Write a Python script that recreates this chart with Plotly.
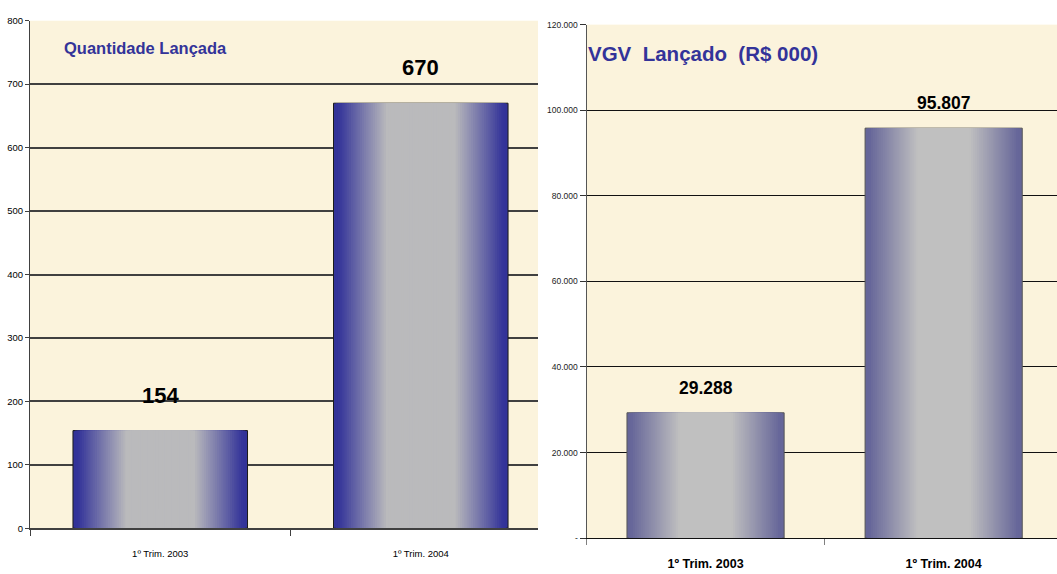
import plotly.graph_objects as go

# ---- data ----
categories = ["1º Trim. 2003", "1º Trim. 2004"]
quantidade = [154, 670]
vgv = [29288, 95807]
qty_labels = ["154", "670"]
vgv_labels = ["29.288", "95.807"]
left_ticks = [0, 100, 200, 300, 400, 500, 600, 700, 800]
right_ticks = [0, 20000, 40000, 60000, 80000, 100000, 120000]
right_ticktext = ["-", "20.000", "40.000", "60.000", "80.000", "100.000", "120.000"]

W, H = 1057, 574
FONT = "Liberation Sans, Arial, sans-serif"
BG = "#FBF3DC"

def lerp(c1, c2, t):
    return "rgb(%d,%d,%d)" % tuple(round(a + (b - a) * t) for a, b in zip(c1, c2))

def gradient_layers(fig, y, xaxis, yaxis, dark, light, bar_w, s0, s1, edge, n=40):
    xs = list(range(len(y)))
    for k in range(n):
        s = k / n
        t = min(max((s - s0) / (s1 - s0), 0), 1)
        fig.add_trace(go.Bar(
            x=xs, y=y, width=bar_w * (1 - s),
            marker=dict(color=lerp(dark, light, t),
                        line=dict(width=1 if k == 0 else 0, color=edge)),
            xaxis=xaxis, yaxis=yaxis, showlegend=False, hoverinfo="skip"))

fig = go.Figure()
gradient_layers(fig, quantidade, "x", "y", (51, 51, 153), (186, 186, 188), 0.67, 0.04, 0.6, "#1a1a1a")
gradient_layers(fig, vgv, "x2", "y2", (102, 102, 153), (192, 192, 192), 0.66, 0.04, 0.66, "#555555")

xd1 = [30 / W, 538 / W]
xd2 = [586.5 / W, 1.0]
yd1 = [1 - 532.5 / H, 1 - 15 / H]
yd2 = [1 - 542.5 / H, 1 - 19 / H]

fig.update_layout(
    width=W, height=H, margin=dict(l=0, r=0, t=0, b=0),
    paper_bgcolor="white", plot_bgcolor=BG, barmode="overlay",
    showlegend=False,
    xaxis=dict(domain=xd1, range=[-0.5, 1.45], tickvals=[0, 1], ticktext=categories,
               ticks="", showgrid=False, zeroline=False,
               showline=True, linecolor="#404040", linewidth=2,
               tickfont=dict(family=FONT, size=9.5, color="black"),
               ticklabelstandoff=15,
               minor=dict(tickvals=[-0.5, 0.5], ticks="outside", ticklen=6,
                          tickcolor="#404040", showgrid=False),
               anchor="y", fixedrange=True),
    yaxis=dict(domain=yd1, range=[0, 800], tickvals=left_ticks,
               showgrid=True, gridcolor="#404040", gridwidth=2, zeroline=False,
               showline=True, linecolor="#404040", linewidth=1,
               ticks="outside", ticklen=4, tickcolor="#404040",
               tickfont=dict(family=FONT, size=9.5, color="black"),
               anchor="x", fixedrange=True),
    xaxis2=dict(domain=xd2, range=[-0.5, 1.476], tickvals=[0, 1], ticktext=categories,
                ticks="", showgrid=False, zeroline=False,
                showline=True, linecolor="#111111", linewidth=1,
                tickfont=dict(family=FONT, size=12.5, color="black", weight="bold"),
                ticklabelstandoff=14,
                minor=dict(tickvals=[-0.5, 0.5], ticks="outside", ticklen=6,
                           tickcolor="#808080", showgrid=False),
                anchor="y2", fixedrange=True),
    yaxis2=dict(domain=yd2, range=[0, 120000], tickvals=right_ticks, ticktext=right_ticktext,
                showgrid=True, gridcolor="#111111", gridwidth=1, zeroline=False,
                showline=True, linecolor="#555555", linewidth=1,
                ticks="outside", ticklen=6, tickcolor="#333333",
                tickfont=dict(family=FONT, size=8.5, color="#222222"),
                anchor="x2", fixedrange=True),
)

annotations = []
for i, (v, lab) in enumerate(zip(quantidade, qty_labels)):
    annotations.append(dict(x=i, y=v, xref="x", yref="y", text=lab, showarrow=False,
                            yanchor="bottom", yshift=21,
                            font=dict(family=FONT, size=22, color="black", weight="bold")))
for i, (v, lab) in enumerate(zip(vgv, vgv_labels)):
    annotations.append(dict(x=i, y=v, xref="x2", yref="y2", text=lab, showarrow=False,
                            yanchor="bottom", yshift=13,
                            font=dict(family=FONT, size=17.5, color="black", weight="bold")))
annotations.append(dict(x=62 / W, y=1 - 43 / H, xref="paper", yref="paper",
                        text="Quantidade Lançada", showarrow=False,
                        xanchor="left", yanchor="middle",
                        font=dict(family=FONT, size=16.5, color="#333399", weight="bold")))
annotations.append(dict(x=586 / W, y=1 - 48 / H, xref="paper", yref="paper",
                        text="VGV\u00a0\u00a0Lançado\u00a0\u00a0(R$ 000)", showarrow=False,
                        xanchor="left", yanchor="middle",
                        font=dict(family=FONT, size=20.5, color="#333399", weight="bold")))
fig.update_layout(annotations=annotations)

fig.write_html("out.html")
